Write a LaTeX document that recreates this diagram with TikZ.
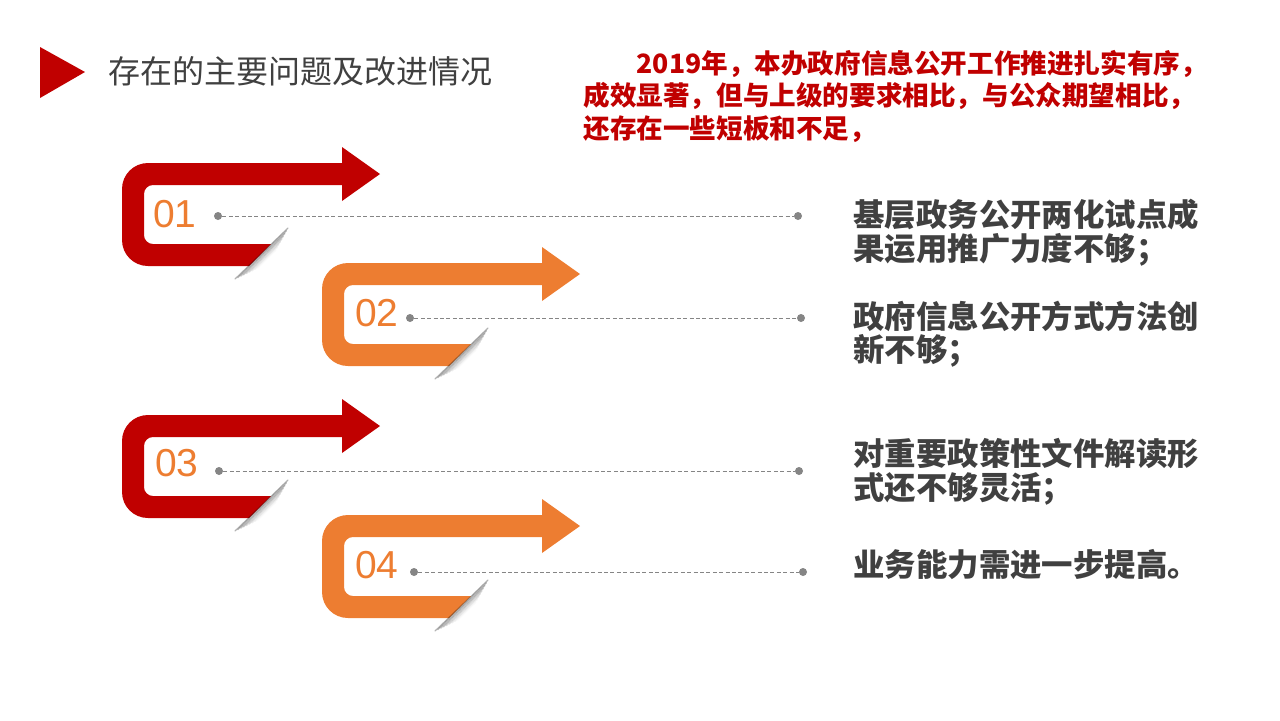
\documentclass[tikz,border=0pt]{standalone}
\usepackage{fontspec}
\setmainfont{Noto Sans CJK SC}
\newfontfamily\numfont{Liberation Sans}
\usepackage{xcolor}

\definecolor{arrowred}{HTML}{C00000}
\definecolor{arroworange}{HTML}{ED7D31}
\definecolor{textgray}{HTML}{404040}
\definecolor{dotgray}{HTML}{858585}

\tikzset{
	dotnode/.style={circle, fill=dotgray, inner sep=0pt, minimum size=4pt},
	leader/.style={dotgray, line width=0.5pt, dash pattern=on 2pt off 1.2pt},
	numlabel/.style={text=arroworange, inner sep=0pt, font=\numfont\fontsize{19.5}{20}\selectfont},
	itemtext/.style={text=textgray, anchor=west, inner sep=0pt, align=left, font=\bfseries\fontsize{15.7}{16.8}\selectfont},
	pics/bendarrow/.style={code={
		% band with arrow head
		\fill (26,0) -- (220,0) -- (220,-16) -- (258,11) -- (220,38) -- (220,22)
			-- (31,22) .. controls (26,22) and (22,26) .. (22,31)
			-- (22,72) .. controls (22,77) and (26,81) .. (31,81)
			-- (149,81) -- (127,103) -- (26,103)
			.. controls (11.6,103) and (0,91.4) .. (0,77)
			-- (0,26) .. controls (0,11.6) and (11.6,0) .. (26,0) -- cycle;
		% fold shadow
		\foreach \k/\op in {0/0.3,1/0.26,2/0.22,3/0.18,4/0.14,5/0.1,6/0.07,7/0.04,8/0.02}
			\draw[black, opacity=\op, line width=0.6pt, line cap=round]
				({166-1.50*\k},{65+2.77*\k}) -- ({113+2.85*\k},{116-1.36*\k});
	}}
}

\begin{document}
\begin{tikzpicture}[x=0.5pt, y=-0.5pt]
	\useasboundingbox (0,0) rectangle (1280,720);

	% title
	\fill[arrowred] (40,47) -- (85,72) -- (40,98) -- cycle;
	\node[anchor=west, inner sep=0pt, text=textgray, font=\fontsize{16}{18}\selectfont] (title) at (108,71) {存在的主要问题及改进情况};

	% intro text
	\node[anchor=west, inner sep=0pt, align=left, text=arrowred, font=\bfseries\fontsize{13.3}{16.25}\selectfont] (intro) at (583,96)
		{\hspace*{2em}2019年，本办政府信息公开工作推进扎实有序，\\成效显著，但与上级的要求相比，与公众期望相比，\\还存在一些短板和不足，};

	% loop arrows
	\pic[color=arrowred] at (122,163) {bendarrow};
	\pic[color=arroworange] at (322,263) {bendarrow};
	\pic[color=arrowred] at (122,415) {bendarrow};
	\pic[color=arroworange] at (322,515) {bendarrow};

	% numbers
	\node[numlabel] (n1) at (175,214) {01};
	\node[numlabel] (n2) at (377,313) {02};
	\node[numlabel] (n3) at (177,463) {03};
	\node[numlabel] (n4) at (377,565) {04};

	% dotted leaders
	\node[dotnode] (d1) at (218,216) {};
	\node[dotnode] (e1) at (798,216) {};
	\draw[leader] (d1) -- (e1);
	\node[dotnode] (d2) at (410,318) {};
	\node[dotnode] (e2) at (801,318) {};
	\draw[leader] (d2) -- (e2);
	\node[dotnode] (d3) at (219,471) {};
	\node[dotnode] (e3) at (799,471) {};
	\draw[leader] (d3) -- (e3);
	\node[dotnode] (d4) at (414,572) {};
	\node[dotnode] (e4) at (803,572) {};
	\draw[leader] (d4) -- (e4);

	% items
	\node[itemtext] (t1) at (853,233) {基层政务公开两化试点成\\果运用推广力度不够；};
	\node[itemtext] (t2) at (853,334) {政府信息公开方式方法创\\新不够；};
	\node[itemtext] (t3) at (853,472) {对重要政策性文件解读形\\式还不够灵活；};
	\node[itemtext] (t4) at (853,565) {业务能力需进一步提高。};
\end{tikzpicture}
\end{document}
